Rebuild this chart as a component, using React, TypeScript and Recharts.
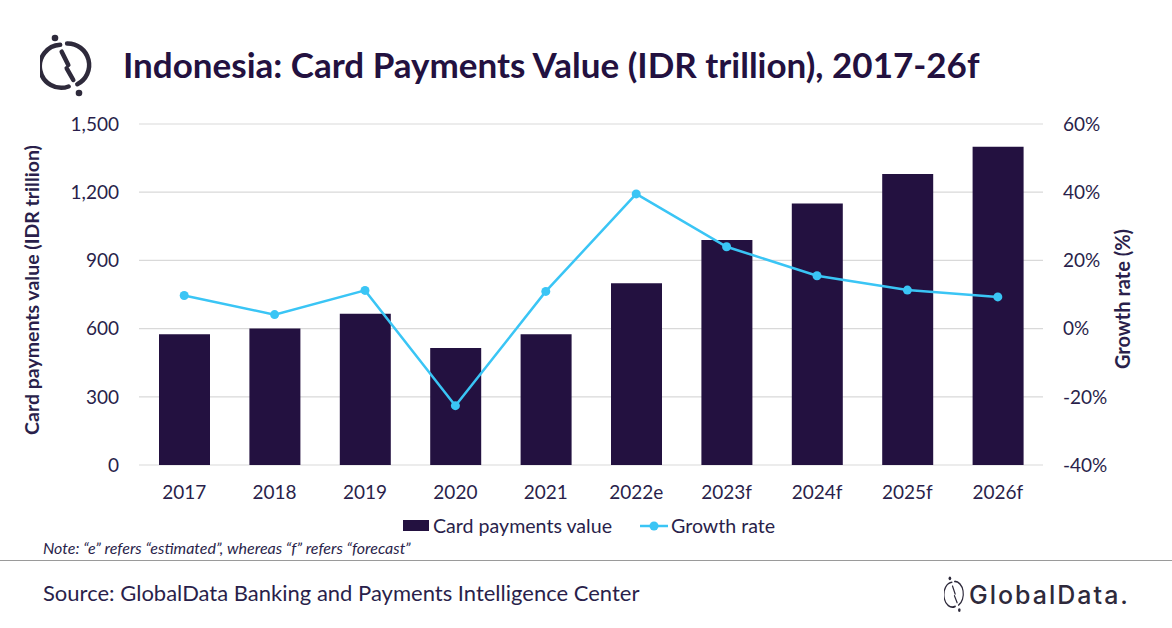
import { ComposedChart, Bar, Line, XAxis, YAxis, CartesianGrid } from "recharts";

const years = ["2017", "2018", "2019", "2020", "2021", "2022e", "2023f", "2024f", "2025f", "2026f"];
const cardValue = [575, 600, 665, 515, 575, 800, 990, 1150, 1280, 1400];
const growthRate = [9.7, 4.1, 11.2, -22.6, 10.9, 39.5, 24.0, 15.5, 11.3, 9.3];
const leftTicks = [0, 300, 600, 900, 1200, 1500];
const rightTicks = [-40, -20, 0, 20, 40, 60];

const data = years.map((year, i) => ({
  year,
  value: cardValue[i],
  growth: growthRate[i],
}));

const INK = "#2a1f4b";
const BAR = "#231140";
const LINE = "#3ac5f5";
const FONT = "Lato, 'Open Sans', sans-serif";

function Logo({ width = 56, height = 64, color = "#2e2a3b", sw = 4.5 }: { width?: number; height?: number; color?: string; sw?: number }) {
  return (
    <svg width={width} height={height} viewBox="0 0 56 64" preserveAspectRatio="none">
      <path d="M 20.15 10.8 A 21.5 21.5 0 1 0 28.6 52.5" fill="none" stroke={color} strokeWidth={sw} strokeLinecap="round" />
      <path d="M 27.1 9.5 A 21.5 21.5 0 0 1 37.3 50.2" fill="none" stroke={color} strokeWidth={sw} strokeLinecap="round" />
      <line x1={21.7} y1={17.7} x2={28.3} y2={31} stroke={color} strokeWidth={sw} strokeLinecap="round" />
      <line x1={26.7} y1={34.3} x2={33.3} y2={46} stroke={color} strokeWidth={sw} strokeLinecap="round" />
      <circle cx={15} cy={4} r={3.3} fill={color} />
      <circle cx={39} cy={59} r={3.3} fill={color} />
    </svg>
  );
}

export default function App() {
  return (
    <div style={{ position: "absolute", left: 0, top: 0, width: 1172, height: 628, background: "#fff", fontFamily: FONT, color: INK }}>
      {/* header */}
      <div style={{ position: "absolute", left: 40, top: 34 }}>
        <Logo />
      </div>
      <div style={{ position: "absolute", left: 123, top: 43, fontSize: 35, fontWeight: 700, color: BAR, whiteSpace: "nowrap" }}>
        Indonesia: Card Payments Value (IDR trillion), 2017-26f
      </div>

      <ComposedChart
        width={1172}
        height={510}
        data={data}
        margin={{ top: 124, right: 0, bottom: 15, left: 0 }}
        style={{ position: "absolute", left: 0, top: 0 }}
      >
        <CartesianGrid yAxisId="left" vertical={false} stroke="#d9d9d9" strokeWidth={1.2} />
        <XAxis
          dataKey="year"
          axisLine={false}
          tickLine={false}
          tickSize={0}
          tickMargin={21}
          height={30}
          tick={{ fill: INK, fontSize: 19, fontFamily: FONT }}
        />
        <YAxis
          yAxisId="left"
          domain={[0, 1500]}
          ticks={leftTicks}
          width={139}
          axisLine={false}
          tickLine={false}
          tickSize={0}
          tickMargin={20}
          tickFormatter={(v: number) => v.toLocaleString("en-US")}
          tick={{ fill: INK, fontSize: 19, fontFamily: FONT }}
        />
        <YAxis
          yAxisId="right"
          orientation="right"
          domain={[-40, 60]}
          ticks={rightTicks}
          width={129}
          axisLine={false}
          tickLine={false}
          tickSize={0}
          tickMargin={20}
          tickFormatter={(v: number) => `${v}%`}
          tick={{ fill: INK, fontSize: 19, fontFamily: FONT, textAnchor: "start" }}
        />
        <Bar yAxisId="left" dataKey="value" fill={BAR} barSize={51} isAnimationActive={false} />
        <Line
          yAxisId="right"
          dataKey="growth"
          stroke={LINE}
          strokeWidth={2.5}
          dot={{ r: 4.5, fill: LINE, stroke: LINE, strokeWidth: 0 }}
          activeDot={false}
          isAnimationActive={false}
        />
      </ComposedChart>

      {/* axis titles */}
      <div style={{ position: "absolute", left: 31, top: 290, transform: "translate(-50%, -50%) rotate(-90deg)", fontSize: 19.5, fontWeight: 700, whiteSpace: "nowrap" }}>
        Card payments value (IDR trillion)
      </div>
      <div style={{ position: "absolute", left: 1122, top: 299, transform: "translate(-50%, -50%) rotate(-90deg)", fontSize: 20, fontWeight: 700, whiteSpace: "nowrap" }}>
        Growth rate (%)
      </div>

      {/* legend */}
      <div style={{ position: "absolute", left: 403, top: 514, display: "flex", alignItems: "center", fontSize: 19.6, whiteSpace: "nowrap" }}>
        <span style={{ display: "inline-block", width: 26, height: 11, background: BAR, marginRight: 4 }} />
        <span>Card payments value</span>
        <svg width={28} height={12} style={{ marginLeft: 28, marginRight: 3 }}>
          <line x1={0} y1={6} x2={28} y2={6} stroke={LINE} strokeWidth={2.5} />
          <circle cx={14} cy={6} r={4.5} fill={LINE} />
        </svg>
        <span>Growth rate</span>
      </div>

      {/* note */}
      <div style={{ position: "absolute", left: 43, top: 538, fontSize: 16, fontStyle: "italic", whiteSpace: "nowrap" }}>
        Note: “e” refers “estimated”, whereas “f” refers “forecast”
      </div>
      <div style={{ position: "absolute", left: 0, top: 560, width: 1172, height: 0, borderTop: "1.5px solid #9a9a9a" }} />

      {/* footer */}
      <div style={{ position: "absolute", left: 43, top: 579, fontSize: 22, whiteSpace: "nowrap" }}>
        Source: GlobalData Banking and Payments Intelligence Center
      </div>
      <div style={{ position: "absolute", left: 944, top: 576, display: "flex", alignItems: "center" }}>
        <Logo width={22} height={37} sw={3} />
        <span style={{ marginLeft: 3, fontSize: 25, fontFamily: "Inter, sans-serif", fontWeight: 500, color: "#2e2a3b", letterSpacing: 2 }}>
          GlobalData.
        </span>
      </div>
    </div>
  );
}
